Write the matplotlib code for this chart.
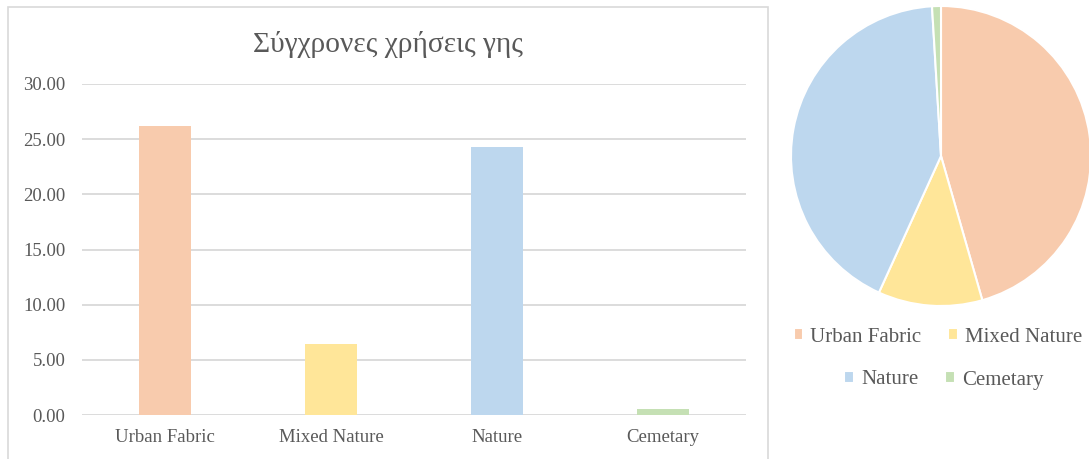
import matplotlib
matplotlib.use("Agg")
import matplotlib.pyplot as plt
from matplotlib.patches import Rectangle

# --- data ------------------------------------------------------------------
categories = ["Urban Fabric", "Mixed Nature", "Nature", "Cemetary"]
values = [26.2, 6.46, 24.3, 0.55]
colors = ["#F8CBAD", "#FFE699", "#BDD7EE", "#C5E0B4"]
yticks = [0, 5, 10, 15, 20, 25, 30]
title = "Σύγχρονες χρήσεις γης"

GREY = "#595959"
GRID = "#D9D9D9"
SERIF = ["Liberation Serif", "DejaVu Serif"]

plt.rcParams["font.family"] = SERIF

W, H = 1089, 459
fig = plt.figure(figsize=(W / 100, H / 100), dpi=100, facecolor="white")

# chart frame (bottom runs off the image, like the screenshot)
fig.patches.append(Rectangle((8 / W, -0.05), (768 - 8) / W, 1.05 - 7 / H,
                             transform=fig.transFigure, fill=False,
                             edgecolor=GRID, lw=1.2))

# --- bar chart ---------------------------------------------------------------
ax = fig.add_axes([82 / W, 1 - 415 / H, (746 - 82) / W, (415 - 84) / H])
x = range(len(categories))
ax.bar(x, values, width=0.31, color=colors, zorder=3)
ax.set_xlim(-0.5, len(categories) - 0.5)
ax.set_ylim(0, 30)
ax.set_yticks(yticks)
ax.set_yticklabels([f"{v:.2f}" for v in yticks])
ax.set_xticks(list(x))
ax.set_xticklabels(categories)
ax.yaxis.grid(True, color=GRID, lw=1.3, zorder=0)
ax.set_axisbelow(True)
for s in ax.spines.values():
    s.set_visible(False)
ax.tick_params(length=0, labelsize=13.5, labelcolor=GREY)
ax.tick_params(axis="y", pad=12)
ax.tick_params(axis="x", pad=10)
fig.text(388 / W, 1 - 45 / H, title, ha="center", va="center",
         fontsize=21.2, color=GREY)

# --- pie chart ---------------------------------------------------------------
pax = fig.add_axes([791 / W, 1 - 306 / H, 300 / W, 300 / H])
wedges, _ = pax.pie(values, colors=colors, startangle=90, counterclock=False,
                    wedgeprops=dict(edgecolor="white", linewidth=1.5))
pax.set_xlim(-1.0, 1.0)
pax.set_ylim(-1.0, 1.0)
pax.set_aspect("equal")

leg_kw = dict(frameon=False, fontsize=15, labelcolor=GREY, handlelength=0.45,
              handleheight=0.45, handletextpad=0.35, columnspacing=1.3,
              ncol=2, loc="center")
fig.legend(wedges[:2], categories[:2], bbox_to_anchor=(938 / W, 1 - 337 / H),
           **leg_kw)
fig.legend(wedges[2:], categories[2:], bbox_to_anchor=(944 / W, 1 - 380 / H),
           **leg_kw)

fig.savefig("out.png", dpi=100, facecolor="white")
